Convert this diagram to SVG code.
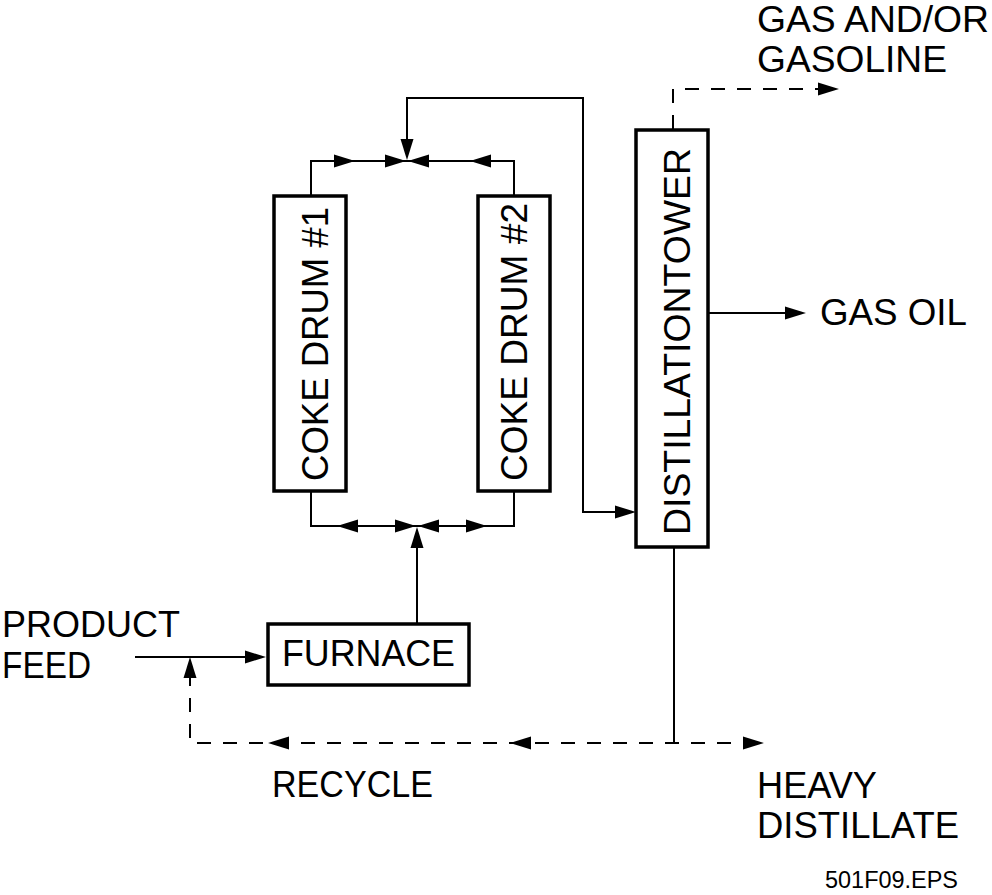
<svg xmlns="http://www.w3.org/2000/svg" xmlns:xlink="http://www.w3.org/1999/xlink" width="992" height="895" viewBox="0 0 992 895">
<style>
.box{fill:#fff;stroke:#000;stroke-width:3.5}
.ln{fill:none;stroke:#000;stroke-width:2}
.dash{fill:none;stroke:#000;stroke-width:2;stroke-dasharray:14 12}
.t{font-family:"Liberation Sans",Arial,Helvetica,sans-serif;font-size:37px;fill:#000}
.small{font-family:"Liberation Sans",Arial,Helvetica,sans-serif;font-size:24px;fill:#000}
</style>
<defs>
<path id="ah" d="M0,0 L-21,-6.5 L-21,6.5 Z" fill="#000"/>
</defs>
<rect width="992" height="895" fill="#fff"/>
<g id="connectors">
<polyline class="ln" points="311,196 311,161 514,161 514,196"/>
<polyline class="ln" points="407,150 407,98 583,98 583,512 620,512"/>
<polyline class="ln" points="311,492 311,526 514,526 514,492"/>
<line class="ln" x1="417" y1="623" x2="417" y2="540"/>
<line class="ln" x1="135" y1="657" x2="252" y2="657"/>
<line class="ln" x1="709" y1="313" x2="792" y2="313"/>
<line class="ln" x1="674" y1="548" x2="674" y2="743"/>
<polyline class="dash" points="673,129 673,89 826,89"/>
<polyline class="dash" points="190,672 190,743 752,743"/>
<use xlink:href="#ah" transform="translate(355,161)"/>
<use xlink:href="#ah" transform="translate(406,161)"/>
<use xlink:href="#ah" transform="translate(408,161) rotate(180)"/>
<use xlink:href="#ah" transform="translate(470,161) rotate(180)"/>
<use xlink:href="#ah" transform="translate(407,160) rotate(90)"/>
<use xlink:href="#ah" transform="translate(636,512)"/>
<use xlink:href="#ah" transform="translate(337,526) rotate(180)"/>
<use xlink:href="#ah" transform="translate(416,526)"/>
<use xlink:href="#ah" transform="translate(418,526) rotate(180)"/>
<use xlink:href="#ah" transform="translate(487,526)"/>
<use xlink:href="#ah" transform="translate(417,527) rotate(-90)"/>
<use xlink:href="#ah" transform="translate(266,657)"/>
<use xlink:href="#ah" transform="translate(806,313)"/>
<use xlink:href="#ah" transform="translate(839,89)"/>
<use xlink:href="#ah" transform="translate(190,657) rotate(-90)"/>
<use xlink:href="#ah" transform="translate(268,743) rotate(180)"/>
<use xlink:href="#ah" transform="translate(510,743) rotate(180)"/>
<use xlink:href="#ah" transform="translate(764,743)"/>
</g>
<g id="coke-drum-1">
<rect class="box" x="274" y="196" width="72" height="295"/>
<text class="t" transform="translate(328,481) rotate(-90)" font-size="41" textLength="274" lengthAdjust="spacingAndGlyphs">COKE DRUM #1</text>
</g>
<g id="coke-drum-2">
<rect class="box" x="478" y="196" width="72" height="295"/>
<text class="t" transform="translate(527,481) rotate(-90)" font-size="41" textLength="278" lengthAdjust="spacingAndGlyphs">COKE DRUM #2</text>
</g>
<g id="distillation-tower">
<rect class="box" x="636" y="130" width="72" height="417"/>
<text class="t" transform="translate(690,535) rotate(-90)" font-size="41" textLength="387" lengthAdjust="spacingAndGlyphs">DISTILLATIONTOWER</text>
</g>
<g id="furnace">
<rect class="box" x="268" y="624" width="201" height="61"/>
<text class="t" x="282" y="666" textLength="173" lengthAdjust="spacingAndGlyphs">FURNACE</text>
</g>
<g id="labels">
<text class="t" x="2" y="637" textLength="178" lengthAdjust="spacingAndGlyphs">PRODUCT</text>
<text class="t" x="2" y="678" textLength="89" lengthAdjust="spacingAndGlyphs">FEED</text>
<text class="t" x="757" y="32" textLength="232" lengthAdjust="spacingAndGlyphs">GAS AND/OR</text>
<text class="t" x="757" y="72" textLength="190" lengthAdjust="spacingAndGlyphs">GASOLINE</text>
<text class="t" x="820" y="325" textLength="147" lengthAdjust="spacingAndGlyphs">GAS OIL</text>
<text class="t" x="272" y="797" textLength="161" lengthAdjust="spacingAndGlyphs">RECYCLE</text>
<text class="t" x="757" y="798" textLength="120" lengthAdjust="spacingAndGlyphs">HEAVY</text>
<text class="t" x="757" y="838" textLength="202" lengthAdjust="spacingAndGlyphs">DISTILLATE</text>
<text class="small" x="825" y="888" textLength="133" lengthAdjust="spacingAndGlyphs">501F09.EPS</text>
</g>
</svg>
